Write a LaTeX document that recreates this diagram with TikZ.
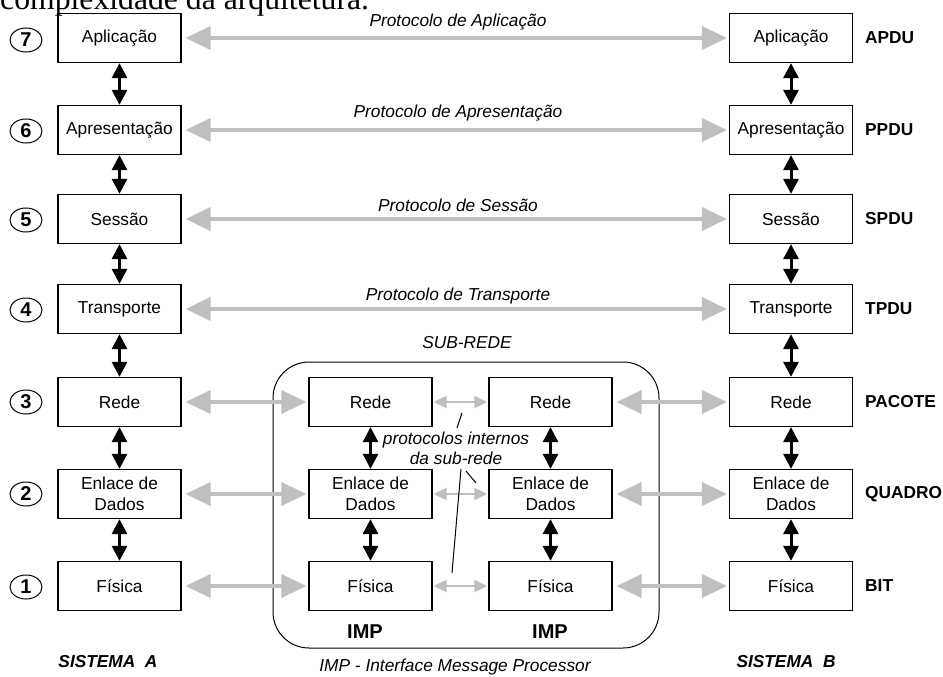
\documentclass[tikz,border=0pt]{standalone}
\usepackage{fontspec}
\setmainfont{Liberation Sans}
\newfontfamily\captionserif{Liberation Serif}
\usetikzlibrary{arrows.meta,shapes.geometric}

\definecolor{protogray}{RGB}{191,191,191}

\tikzset{
  layer/.style={draw, line width=1.3pt, minimum width=123pt, minimum height=49pt,
    inner sep=0pt, align=center, font=\fontsize{17.3}{21}\selectfont},
  num/.style={draw, ellipse, line width=1pt, minimum width=32pt, minimum height=24pt,
    inner sep=0pt, font=\bfseries\fontsize{20}{22}\selectfont},
  pdu/.style={anchor=west, inner sep=0pt, font=\bfseries\fontsize{17.3}{20}\selectfont},
  imp/.style={inner sep=0pt, font=\bfseries\fontsize{20}{22}\selectfont},
  proto/.style={inner sep=0pt, font=\itshape\fontsize{17.3}{20}\selectfont},
  vlink/.style={line width=3pt,
    {Triangle[width=15pt,length=15pt]}-{Triangle[width=15pt,length=15pt]}},
  hlink/.style={protogray, line width=4pt,
    {Triangle[width=23pt,length=25pt]}-{Triangle[width=23pt,length=25pt]},
    shorten <=4pt, shorten >=2pt},
  ilink/.style={protogray, line width=2pt,
    {Triangle[width=12pt,length=13pt]}-{Triangle[width=12pt,length=13pt]},
    shorten <=1pt, shorten >=1pt},
  leader/.style={line width=1pt},
}

\begin{document}
\begin{tikzpicture}[x=1pt,y=-1pt]
\useasboundingbox (0,0) rectangle (943,677);

% running text of the page above the figure
\node[anchor=base west, inner sep=0pt, font=\captionserif\fontsize{31.7}{34}\selectfont]
  (pagetext) at (0,10) {complexidade da arquitetura.};

% row heights
\def\rseven{38}\def\rsix{130}\def\rfive{219}\def\rfour{309}
\def\rthree{402}\def\rtwo{494}\def\rone{586}

% system A
\node[layer] (A7) at (119.5,\rseven) {Aplicação};
\node[layer] (A6) at (119.5,\rsix) {Apresentação};
\node[layer] (A5) at (119.5,\rfive) {Sessão};
\node[layer] (A4) at (119.5,\rfour) {Transporte};
\node[layer] (A3) at (119.5,\rthree) {Rede};
\node[layer] (A2) at (119.5,\rtwo) {Enlace de\\Dados};
\node[layer] (A1) at (119.5,\rone) {Física};

% system B
\node[layer] (B7) at (791,\rseven) {Aplicação};
\node[layer] (B6) at (791,\rsix) {Apresentação};
\node[layer] (B5) at (791,\rfive) {Sessão};
\node[layer] (B4) at (791,\rfour) {Transporte};
\node[layer] (B3) at (791,\rthree) {Rede};
\node[layer] (B2) at (791,\rtwo) {Enlace de\\Dados};
\node[layer] (B1) at (791,\rone) {Física};

% subnet and its two IMPs
\node[draw, line width=1pt, rounded corners=36pt, minimum width=386pt,
  minimum height=286pt, inner sep=0pt] (subnet) at (466,505) {};
\node[proto] (subnetlabel) at (467,343) {SUB-REDE};

\node[layer] (I3) at (370.5,\rthree) {Rede};
\node[layer] (I2) at (370.5,\rtwo) {Enlace de\\Dados};
\node[layer] (I1) at (370.5,\rone) {Física};
\node[layer] (J3) at (550.5,\rthree) {Rede};
\node[layer] (J2) at (550.5,\rtwo) {Enlace de\\Dados};
\node[layer] (J1) at (550.5,\rone) {Física};

\node[imp] (imp1) at (365,632) {IMP};
\node[imp] (imp2) at (550,632) {IMP};

% layer numbers
\node[num] (n7) at (26,40) {7};
\node[num] (n6) at (26,131) {6};
\node[num] (n5) at (26,220) {5};
\node[num] (n4) at (26,310) {4};
\node[num] (n3) at (26,402) {3};
\node[num] (n2) at (26,494) {2};
\node[num] (n1) at (26,587) {1};

% data units
\node[pdu] (u7) at (865,\rseven) {APDU};
\node[pdu] (u6) at (865,\rsix) {PPDU};
\node[pdu] (u5) at (865,\rfive) {SPDU};
\node[pdu] (u4) at (865,\rfour) {TPDU};
\node[pdu] (u3) at (865,\rthree) {PACOTE};
\node[pdu] (u2) at (865,\rtwo) {QUADRO};
\node[pdu] (u1) at (865,\rone) {BIT};

% interfaces inside each stack
\foreach \s in {A,B}{
  \foreach \a/\b in {7/6,6/5,5/4,4/3,3/2,2/1}{
    \draw[vlink] (\s\a) -- (\s\b);
  }
}
\foreach \s in {I,J}{
  \foreach \a/\b in {3/2,2/1}{
    \draw[vlink] (\s\a) -- (\s\b);
  }
}

% peer protocols of the upper layers
\draw[hlink] (A7) -- (B7);
\draw[hlink] (A6) -- (B6);
\draw[hlink] (A5) -- (B5);
\draw[hlink] (A4) -- (B4);
\node[proto] (p7) at (458,22) {Protocolo de Aplicação};
\node[proto] (p6) at (458,113) {Protocolo de Apresentação};
\node[proto] (p5) at (458,205) {Protocolo de Sessão};
\node[proto] (p4) at (458,296) {Protocolo de Transporte};

% hosts to IMPs
\draw[hlink] (A3) -- (I3);
\draw[hlink] (A2) -- (I2);
\draw[hlink] (A1) -- (I1);
\draw[hlink] (J3) -- (B3);
\draw[hlink] (J2) -- (B2);
\draw[hlink] (J1) -- (B1);

% IMP to IMP
\draw[ilink] (I3) -- (J3);
\draw[ilink] (I2) -- (J2);
\draw[ilink] (I1) -- (J1);

\node[proto, align=center] (internal) at (456,448)
  {protocolos internos\\da sub-rede};
\coordinate (la1) at (462,413); \coordinate (la2) at (457,428);
\coordinate (lb1) at (466,471); \coordinate (lb2) at (476,483);
\coordinate (lc1) at (461,469); \coordinate (lc2) at (452,573);
\draw[leader] (la1) -- (la2);
\draw[leader] (lb1) -- (lb2);
\draw[leader] (lc1) -- (lc2);

% captions
\node[pdu, anchor=center, font=\bfseries\itshape\fontsize{17.3}{20}\selectfont]
  (sysA) at (108,662) {SISTEMA\ \ A};
\node[pdu, anchor=center, font=\bfseries\itshape\fontsize{17.3}{20}\selectfont]
  (sysB) at (786,662) {SISTEMA\ \ B};
\node[proto] (impnote) at (455,667) {IMP - Interface Message Processor};
\end{tikzpicture}
\end{document}
